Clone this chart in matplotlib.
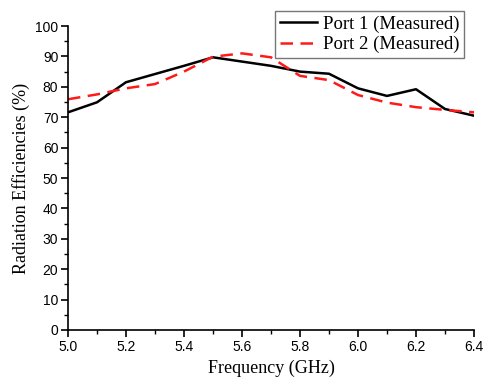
import matplotlib
matplotlib.use("Agg")
import matplotlib.pyplot as plt
from matplotlib.ticker import MultipleLocator

# datos
freq = [5.0, 5.1, 5.2, 5.3, 5.4, 5.5, 5.6, 5.7, 5.8, 5.9, 6.0, 6.1, 6.2, 6.3, 6.4]
port1 = [71.6, 74.9, 81.5, 84.2, 86.9, 89.7, 88.3, 86.9, 85.0, 84.3, 79.5, 77.0, 79.2, 72.7, 70.5]
port2 = [75.9, 77.5, 79.5, 80.9, 85.0, 89.9, 91.0, 89.7, 83.6, 82.2, 77.3, 74.8, 73.3, 72.4, 71.6]
labels = ["Port 1 (Measured)", "Port 2 (Measured)"]

fig = plt.figure(figsize=(4.87, 3.87), dpi=100)
ax = fig.add_axes([0.1396, 0.1473, 0.8337, 0.7855])

ax.plot(freq, port1, color="black", lw=1.8, label=labels[0])
ax.plot(freq, port2, color="#ff1a1a", lw=1.8, dashes=(5, 3), label=labels[1])

ax.set_xlim(5.0, 6.4)
ax.set_ylim(0, 100)
ax.xaxis.set_major_locator(MultipleLocator(0.2))
ax.xaxis.set_minor_locator(MultipleLocator(0.1))
ax.yaxis.set_major_locator(MultipleLocator(10))
ax.yaxis.set_minor_locator(MultipleLocator(5))

for s in ["top", "right"]:
    ax.spines[s].set_visible(False)
for s in ["left", "bottom"]:
    ax.spines[s].set_linewidth(1.2)

ax.tick_params(which="major", direction="out", length=5, width=1.2,
               labelsize=10, pad=2)
ax.tick_params(which="minor", direction="out", length=3, width=1.0)
for t in ax.get_xticklabels() + ax.get_yticklabels():
    t.set_family("Liberation Sans")

ax.set_xlabel("Frequency (GHz)", family="Liberation Serif", fontsize=13, labelpad=4)
ax.set_ylabel("Radiation Efficiencies (%)", family="Liberation Serif", fontsize=13, labelpad=4)

leg = ax.legend(loc="upper right", bbox_to_anchor=(464 / 487, 1 - 11 / 387),
                bbox_transform=fig.transFigure,
                prop={"family": "Liberation Serif", "size": 13.5},
                fancybox=False, framealpha=1, edgecolor="#777777",
                handlelength=2.0, handletextpad=0.3, borderpad=0.25,
                labelspacing=0.15, borderaxespad=0)
leg.get_frame().set_linewidth(1.0)

fig.savefig("out.png", dpi=100)
